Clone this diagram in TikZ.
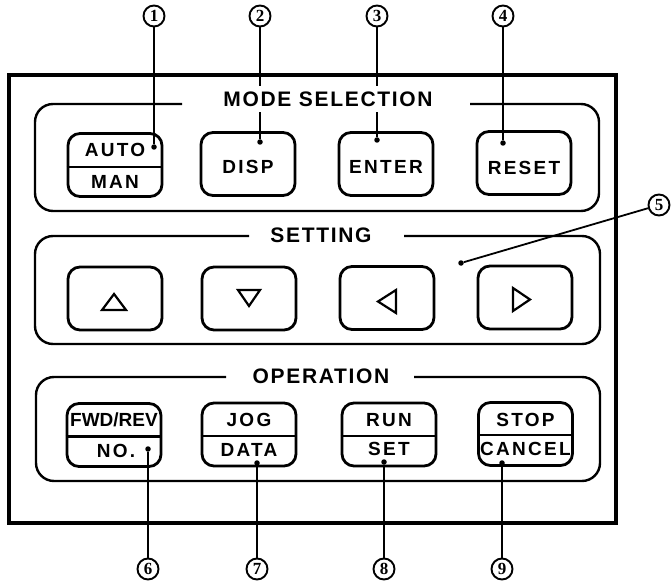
\documentclass[tikz,border=0pt]{standalone}
\usepackage{fontspec}
\newfontfamily\btnfont{Liberation Sans}[LetterSpace=12]
\newfontfamily\tightfont{Liberation Sans}
\newfontfamily\ttlfont{Liberation Sans}[LetterSpace=8]
\newfontfamily\numfont{Liberation Serif}
\begin{document}
\begin{tikzpicture}[x=1pt,y=-1pt,
  btn/.style={draw, line width=2.8pt, rounded corners=12pt, minimum width=94pt, minimum height=63pt, inner sep=0pt},
  grp/.style={line width=2.4pt, rounded corners=18pt},
  ttl/.style={fill=white, inner xsep=1pt, inner ysep=6pt, font=\ttlfont\bfseries\fontsize{21}{21}\selectfont},
  btxt/.style={inner sep=0pt, font=\btnfont\bfseries\fontsize{19}{19}\selectfont},
  ctxt/.style={inner sep=0pt, font=\tightfont\bfseries\fontsize{19}{19}\selectfont},
  num/.style={circle, draw, line width=1.9pt, minimum size=21pt, inner sep=0pt, font=\numfont\bfseries\fontsize{17}{17}\selectfont},
  lead/.style={line width=1.8pt},
  pin/.style={circle, fill, inner sep=0pt, minimum size=5.5pt},
  tri/.style={line width=2.2pt, line join=miter},
  divider/.style={line width=2.4pt}]
\useasboundingbox (0,0) rectangle (672,583);

% outer frame
\draw[line width=3.5pt] (9,75) rectangle (616,523);

% groups
\draw[grp] (182,104) -- (35,104) -- (35,211) -- (599,211) -- (599,104) -- (470,104);
\draw[grp] (249,236) -- (35,236) -- (35,344) -- (600,344) -- (600,236) -- (404,236);
\draw[grp] (226,377) -- (36,377) -- (36,481) -- (600,481) -- (600,377) -- (414,377);

% mode buttons
\node[btn] (b1) at (115,165) {};
\node[btn] (b2) at (248,164) {};
\node[btn] (b3) at (386,164) {};
\node[btn] (b4) at (524,163) {};
\draw[divider] ([yshift=-2pt]b1.west) -- ([yshift=-2pt]b1.east);
\node[btxt] (t1a) at (115,150) {AUTO};
\node[btxt] (t1b) at (115,182) {MAN};
\node[btxt] (t2) at (248,167) {DISP};
\node[btxt] (t3) at (386,167) {ENTER};
\node[btxt] (t4) at (524,168) {RESET};

% setting buttons
\node[btn] (s1) at (115,298.5) {};
\node[btn] (s2) at (249,298.5) {};
\node[btn] (s3) at (387,298) {};
\node[btn] (s4) at (525,297.5) {};
\draw[tri] (102,310) -- (126,310) -- (114,294) -- cycle;
\draw[tri] (238,290) -- (260,290) -- (249,306) -- cycle;
\draw[tri] (396,290) -- (396,313) -- (378,301.5) -- cycle;
\draw[tri] (513,288) -- (513,311) -- (530,299.5) -- cycle;

% operation buttons
\node[btn] (o1) at (114,435) {};
\node[btn] (o2) at (249,434.5) {};
\node[btn] (o3) at (389,434.5) {};
\node[btn] (o4) at (525.5,434) {};
\draw[divider] ([yshift=-1.5pt]o1.west) -- ([yshift=-1.5pt]o1.east);
\draw[divider] ([yshift=-1.5pt]o2.west) -- ([yshift=-1.5pt]o2.east);
\draw[divider] ([yshift=-1.5pt]o3.west) -- ([yshift=-1.5pt]o3.east);
\draw[divider] ([yshift=-1pt]o4.west) -- ([yshift=-1pt]o4.east);
\node[ctxt] (u1a) at (114,420) {FWD/REV};
\node[btxt] (u1b) at (116,451) {NO.};
\node[btxt] (u2a) at (249,420) {JOG};
\node[btxt] (u2b) at (249,450) {DATA};
\node[btxt] (u3a) at (389,420) {RUN};
\node[btxt] (u3b) at (389,449) {SET};
\node[btxt] (u4a) at (525.5,420) {STOP};
\node[btxt] (u4b) at (525.5,449) {CANCEL};

% callout labels
\node[num] (l1) at (154,16) {1};
\node[num] (l2) at (260,16) {2};
\node[num] (l3) at (377,16) {3};
\node[num] (l4) at (503,16) {4};
\node[num] (l5) at (659,205) {5};
\node[num] (l6) at (148,569) {6};
\node[num] (l7) at (257,569) {7};
\node[num] (l8) at (384,569) {8};
\node[num] (l9) at (502,569) {9};

% lead end points
\node[pin] (d1) at (154,147) {};
\node[pin] (d2) at (260,142) {};
\node[pin] (d3) at (377,140) {};
\node[pin] (d4) at (503,143) {};
\node[pin] (d5) at (461,263) {};
\node[pin] (d6) at (148,449) {};
\node[pin] (d7) at (257,463) {};
\node[pin] (d8) at (384,462) {};
\node[pin] (d9) at (502,463) {};

\foreach \i in {1,...,9} \draw[lead] (l\i) -- (d\i);

% group titles
\node[ttl] (g1) at (328,99) {MODE SELECTION};
\node[ttl] (g2) at (321,235) {SETTING};
\node[ttl] (g3) at (321,376) {OPERATION};
\end{tikzpicture}
\end{document}
